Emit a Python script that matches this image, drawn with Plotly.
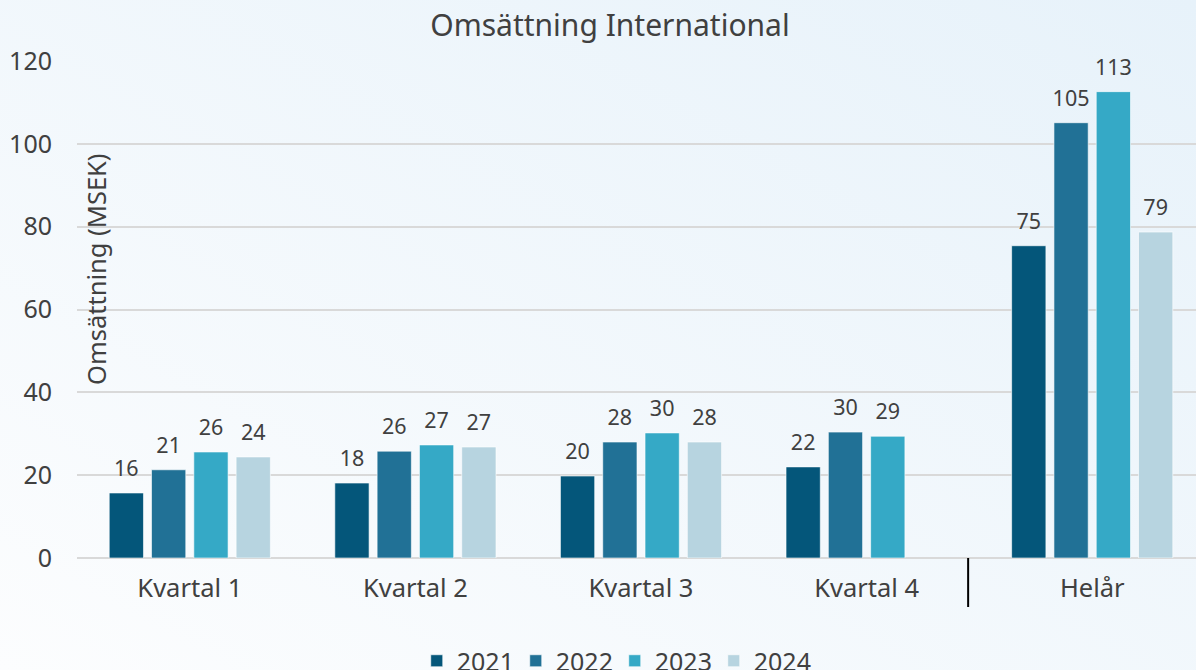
import base64
import plotly.graph_objects as go

categories = ["Kvartal 1", "Kvartal 2", "Kvartal 3", "Kvartal 4", "Helår"]
years = ["2021", "2022", "2023", "2024"]
v2021 = [15.7, 18.1, 19.8, 22.0, 75.4]
v2022 = [21.3, 25.8, 28.0, 30.4, 105.1]
v2023 = [25.6, 27.3, 30.2, 29.4, 112.6]
v2024 = [24.4, 26.8, 28.0, None, 78.7]
series = [v2021, v2022, v2023, v2024]
colors = ["#04567A", "#217196", "#35A9C6", "#B7D4E0"]

W, H = 1196, 670
L, R, T, B = 77, 0, 61, 112
PW, PH = W - L - R, H - T - B
FONT = "Noto Sans"
TXT = "#404040"
GAP = 0.25

fig = go.Figure()
for name, vals, col in zip(years, series, colors):
    fig.add_trace(go.Bar(
        x=categories, y=vals, name=name, offsetgroup=name,
        marker=dict(color=col, line=dict(color="rgba(255,255,255,0.6)", width=1)),
        hoverinfo="skip",
    ))
for name, vals in zip(years, series):
    fig.add_trace(go.Scatter(
        x=categories, y=vals, offsetgroup=name, mode="markers+text",
        marker=dict(size=17, opacity=0), showlegend=False,
        texttemplate="%{y:.0f}", textposition="top center",
        textfont=dict(size=21.5, color=TXT, family=FONT),
        cliponaxis=False, hoverinfo="skip",
    ))

svg = ('<svg xmlns="http://www.w3.org/2000/svg" width="1196" height="670">'
       '<defs><linearGradient id="g" x1="0" y1="1" x2="1" y2="0">'
       '<stop offset="0" stop-color="#fcfdfe"/><stop offset="1" stop-color="#e7f2fa"/>'
       '</linearGradient></defs><rect width="1196" height="670" fill="url(#g)"/></svg>')
src = "data:image/svg+xml;base64," + base64.b64encode(svg.encode()).decode()

fig.update_layout(
    width=W, height=H,
    margin=dict(l=L, r=R, t=T, b=B),
    paper_bgcolor="#f3f7fa",
    plot_bgcolor="rgba(0,0,0,0)",
    font=dict(family=FONT, color=TXT),
    barmode="group", bargap=GAP, bargroupgap=0.19,
    scattermode="group", scattergap=GAP,
    title=dict(text="Omsättning International", x=0.51, xanchor="center",
               y=1 - 25 / H, yanchor="middle", yref="container",
               font=dict(size=30, color=TXT, family=FONT)),
    legend=dict(orientation="h", xref="container", x=0.514, xanchor="center",
                yref="container", y=(H - 661) / H, yanchor="middle",
                font=dict(size=25, color=TXT, family=FONT),
                bgcolor="rgba(0,0,0,0)", traceorder="normal", itemwidth=30,
                entrywidth=54),
    images=[dict(source=src, xref="paper", yref="paper",
                 x=-L / PW, y=1 + T / PH, sizex=W / PW, sizey=H / PH,
                 xanchor="left", yanchor="top", sizing="stretch", layer="below")],
    showlegend=True,
)
fig.update_xaxes(showgrid=False, zeroline=False, showline=False,
                 range=[-0.5, 4.46],
                 tickfont=dict(size=25.5, color=TXT, family=FONT),
                 ticklabelstandoff=12)
fig.update_yaxes(range=[0, 120], dtick=20, showgrid=True, gridcolor="#d9d9d9", gridwidth=1.5,
                 zeroline=True, zerolinecolor="#d9d9d9", zerolinewidth=1.5,
                 showline=False, tickfont=dict(size=25, color=TXT, family=FONT),
                 ticklabelstandoff=24)
fig.add_annotation(text="Omsättning (MSEK)", textangle=-90, xref="paper", yref="paper",
                   x=(96 - L) / PW, y=(H - B - 269) / PH, xanchor="center", yanchor="middle",
                   showarrow=False, font=dict(size=25.5, color=TXT, family=FONT))
fig.add_shape(type="line", xref="x", yref="paper", x0=3.45, x1=3.45,
              y0=0, y1=-(607 - 558) / PH, line=dict(color="black", width=2))

fig.write_html("out.html", config={"displayModeBar": False},
               post_script="document.body.style.margin='0';document.body.style.padding='0';")
